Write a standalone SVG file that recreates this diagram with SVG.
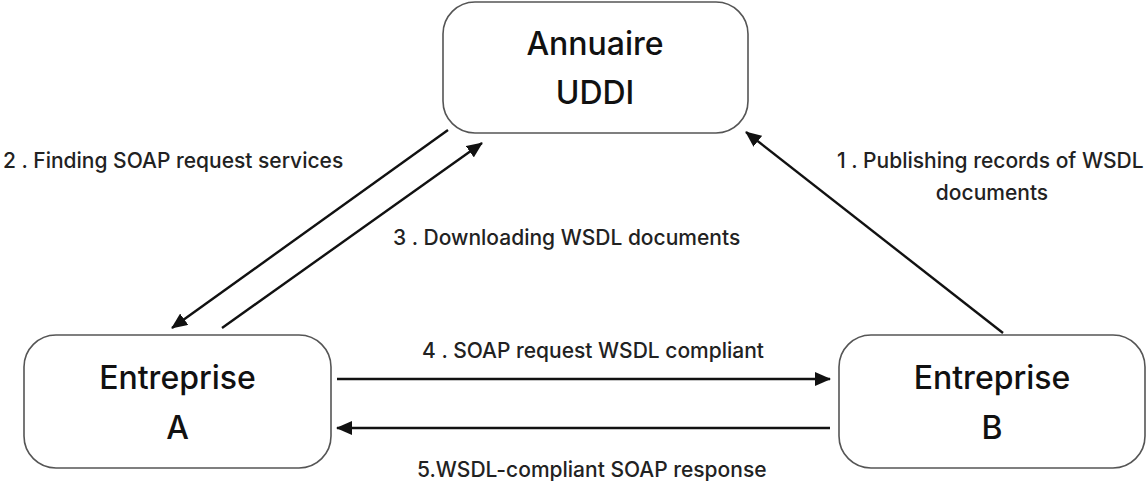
<svg xmlns="http://www.w3.org/2000/svg" width="1148" height="484" viewBox="0 0 1148 484">
<style>
.node{fill:#fff;stroke:#555;stroke-width:1.6}
.big{font-family:Inter,"Noto Sans",sans-serif;font-size:32px;font-weight:500;fill:#111;text-anchor:middle}
.lbl{font-family:Inter,"Noto Sans",sans-serif;font-size:21px;font-weight:500;fill:#222}
.edge{stroke:#111;stroke-width:2.4;fill:none;marker-end:url(#ah)}
</style>
<defs>
<marker id="ah" markerUnits="userSpaceOnUse" markerWidth="16" markerHeight="14" refX="15" refY="7" orient="auto">
<path d="M0,0 L16,7 L0,14 z" fill="#111"/>
</marker>
</defs>
<rect width="1148" height="484" fill="#fff"/>
<g id="uddi">
<rect class="node" x="443" y="2" width="305" height="131" rx="32"/>
<text class="big" x="595" y="55">Annuaire</text>
<text class="big" x="595" y="104">UDDI</text>
</g>
<g id="entA">
<rect class="node" x="24" y="335" width="307" height="133" rx="32"/>
<text class="big" x="177.5" y="389">Entreprise</text>
<text class="big" x="177.5" y="439">A</text>
</g>
<g id="entB">
<rect class="node" x="839" y="335" width="306" height="133" rx="32"/>
<text class="big" x="992" y="389">Entreprise</text>
<text class="big" x="992" y="439">B</text>
</g>
<g id="connectors">
<line class="edge" x1="448" y1="130" x2="172" y2="328"/>
<line class="edge" x1="222" y1="328" x2="482" y2="143"/>
<line class="edge" x1="1003" y1="333" x2="746" y2="132"/>
<line class="edge" x1="337" y1="379" x2="830" y2="379"/>
<line class="edge" x1="830" y1="428" x2="337" y2="428"/>
</g>
<g id="labels">
<text class="lbl" x="3" y="168">2 . Finding SOAP request services</text>
<text class="lbl" x="393" y="245">3 . Downloading WSDL documents</text>
<text class="lbl" x="837" y="168">1 . Publishing records of WSDL</text>
<text class="lbl" x="992" y="200" text-anchor="middle">documents</text>
<text class="lbl" x="422" y="358">4 . SOAP request WSDL compliant</text>
<text class="lbl" x="417" y="477">5.WSDL-compliant SOAP response</text>
</g>
</svg>
